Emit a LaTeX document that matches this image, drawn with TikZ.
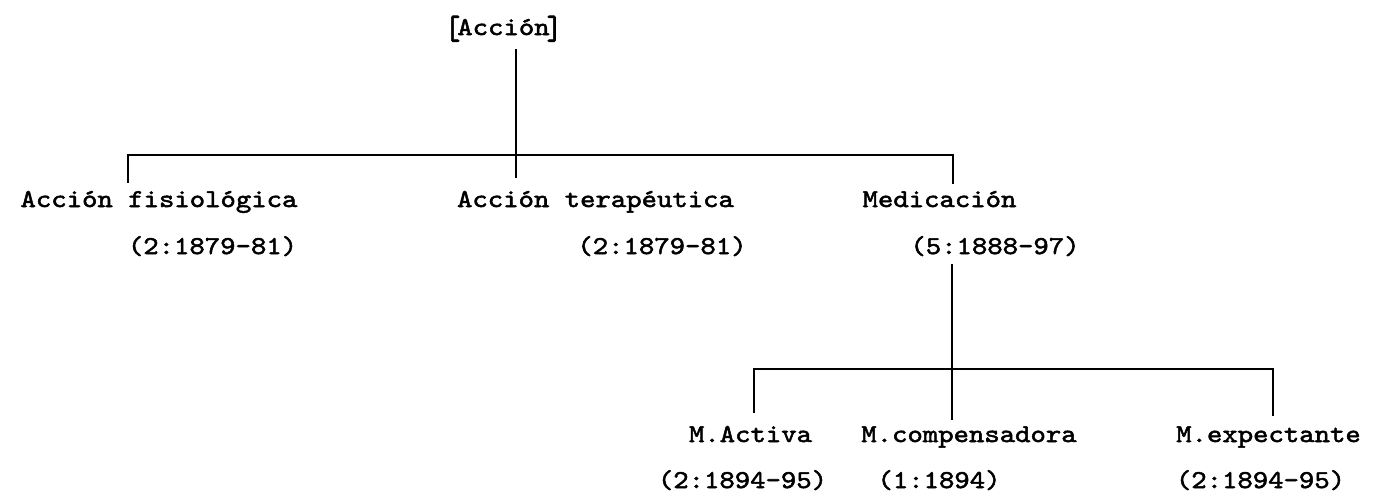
\documentclass[tikz,border=0pt]{standalone}
\usepackage{graphicx}
\usepackage{fontspec}
\newfontfamily\tw{lmmono10-regular}[Extension=.otf,FakeStretch=1.14,FakeBold=2]
\newcommand{\tallbr}[1]{\raisebox{-4pt}{\scalebox{1}[1.3]{#1}}}
\begin{document}
\begin{tikzpicture}[x=1pt,y=-1pt,
  lbl/.style={anchor=base,inner sep=0pt,font=\tw\fontsize{25.7}{30}\selectfont},
  link/.style={line width=2pt,line cap=rect}]
\useasboundingbox (0,0) rectangle (1385,499);
% texts
\node[lbl] (root) at (503.5,35) {\tallbr{[}\kern-3pt Acción\kern-3pt\tallbr{]}};
\node[lbl] (fis) at (159,207) {Acción fisiológica};
\node[lbl] (fisd) at (212.5,254) {(2:1879-81)};
\node[lbl] (ter) at (595.5,207) {Acción terapéutica};
\node[lbl] (terd) at (662,254) {(2:1879-81)};
\node[lbl] (med) at (939.5,207) {Medicación};
\node[lbl] (medd) at (995,254) {(5:1888-97)};
\node[lbl] (act) at (750.5,442) {M.Activa};
\node[lbl] (actd) at (742.5,488) {(2:1894-95)};
\node[lbl] (com) at (969,442) {M.compensadora};
\node[lbl] (comd) at (939,488) {(1:1894)};
\node[lbl] (exp) at (1268.5,442) {M.expectante};
\node[lbl] (expd) at (1260.5,488) {(2:1894-95)};
% junction coordinates
\coordinate (r0) at (516,50);
\coordinate (r1) at (516,177);
\coordinate (hL) at (128,155);
\coordinate (hR) at (953,155);
\coordinate (fisT) at (128,182);
\coordinate (medT) at (953,183);
\coordinate (m0) at (952,265);
\coordinate (m1) at (952,419);
\coordinate (gL) at (754,369);
\coordinate (gR) at (1273,369);
\coordinate (actT) at (754,412);
\coordinate (expT) at (1273,415);
% connectors
\draw[link] (r0) -- (r1);
\draw[link] (fisT) -- (hL) -- (hR) -- (medT);
\draw[link] (m0) -- (m1);
\draw[link] (actT) -- (gL) -- (gR) -- (expT);
\end{tikzpicture}
\end{document}
